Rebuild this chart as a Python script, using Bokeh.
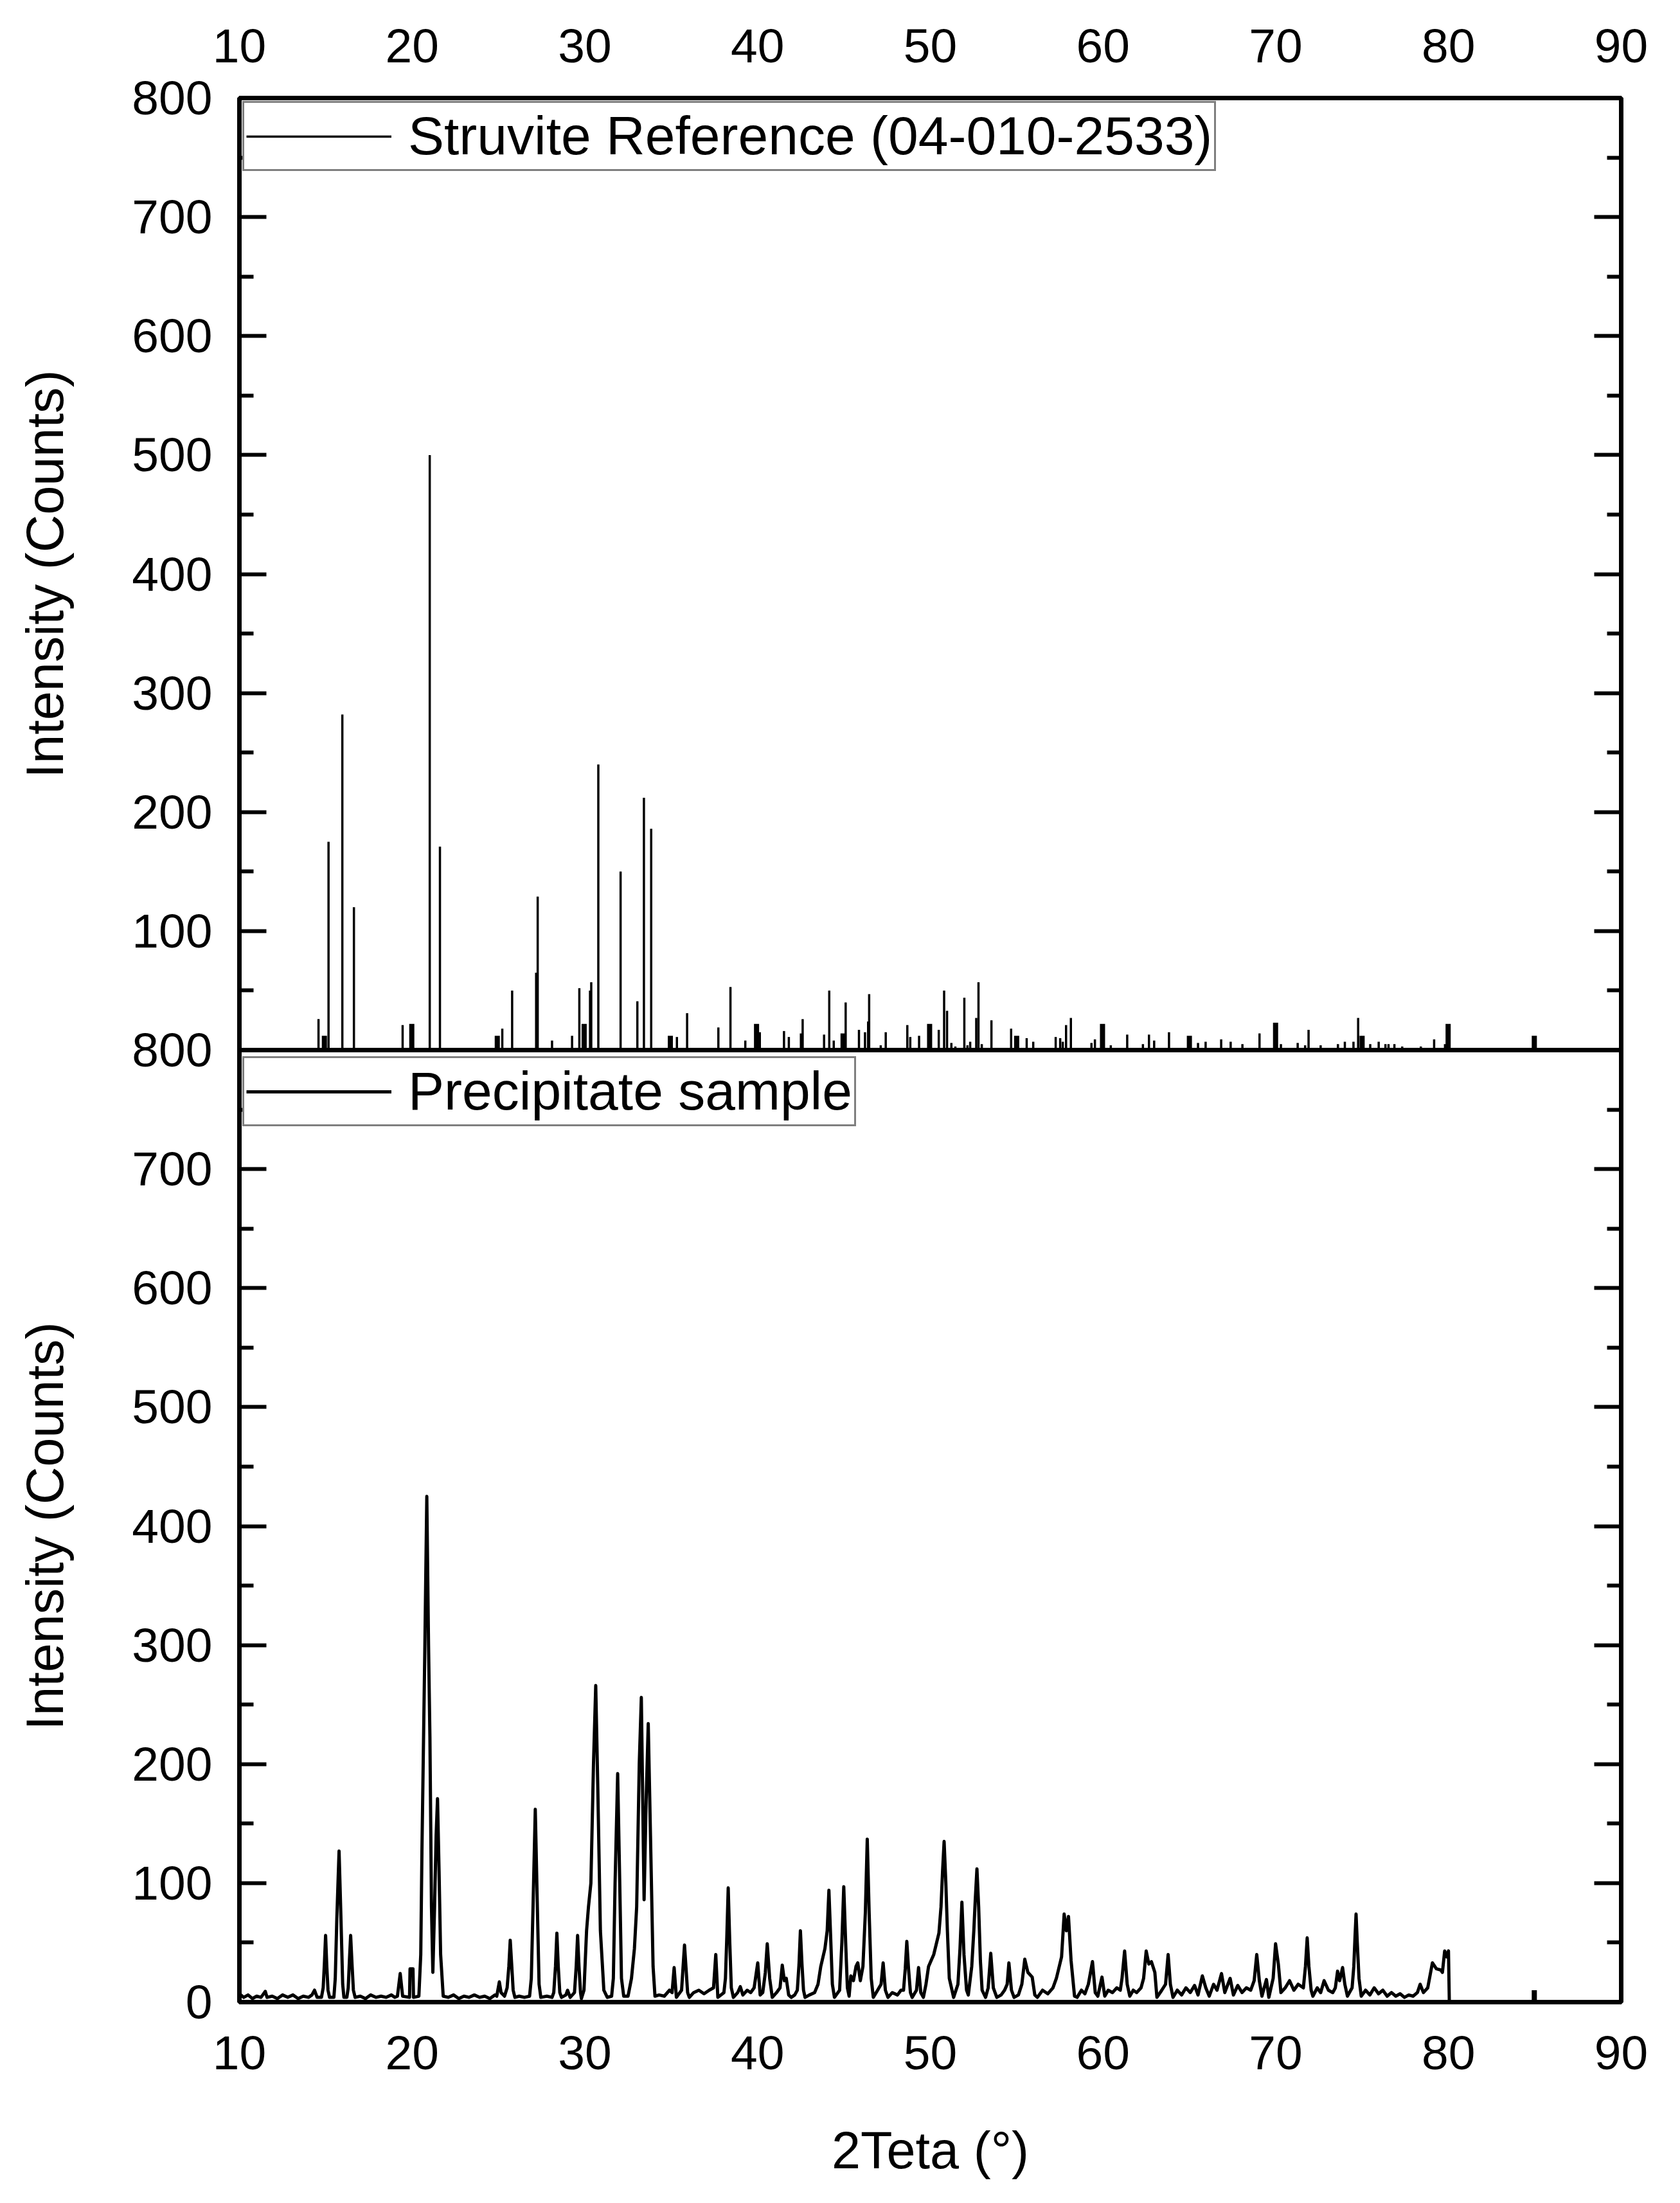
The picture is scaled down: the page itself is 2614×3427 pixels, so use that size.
import math
from bokeh.plotting import figure
from bokeh.models import (Range1d, LinearAxis, Legend, LegendItem, FixedTicker,
                          ColumnDataSource, Span)
from bokeh.layouts import row
from bokeh.core.properties import value
from bokeh.embed import file_html
from bokeh.resources import INLINE

FONT = "Liberation Sans"

# ---------------- data ----------------
# Struvite reference pattern (stick positions, 2theta deg / intensity)
ref_theta = [14.58, 15.16, 15.96, 16.63, 19.45, 21.02, 21.61, 25.22, 25.79, 27.18,
             27.27, 28.1, 29.26, 29.68, 30.3, 30.37, 30.78, 32.07, 33.04, 33.42,
             33.84, 35.33, 35.92, 37.73, 38.43, 39.29, 40.13, 41.53, 41.81, 42.51,
             42.61, 43.85, 44.15, 44.41, 45.1, 45.87, 46.22, 46.4, 46.46, 47.13,
             47.42, 48.67, 48.84, 49.35, 50.49, 50.8, 50.97, 51.22, 51.45, 51.97,
             52.15, 52.31, 52.66, 52.79, 52.98, 53.54, 54.68, 55.58, 55.96, 57.26,
             57.52, 57.67, 57.86, 58.14, 59.33, 59.53, 60.45, 61.4, 62.31, 62.66,
             62.96, 63.82, 65.5, 65.94, 66.84, 67.39, 68.07, 69.06, 70.3, 71.27,
             71.7, 71.9, 72.6, 73.6, 74.0, 74.5, 74.77, 75.47, 75.96, 76.35,
             76.53, 76.87, 77.32, 78.4, 79.17, 79.8]
ref_counts = [26, 175, 282, 120, 21, 500, 171, 18, 50, 65,
              129, 8, 12, 52, 50, 57, 240, 150, 41, 212,
              186, 11, 31, 19, 53, 8, 15, 16, 11, 14,
              26, 13, 50, 8, 40, 17, 15, 24, 47, 4,
              15, 21, 11, 12, 17, 50, 33, 6, 3, 44,
              4, 7, 27, 57, 5, 25, 18, 10, 7, 11,
              10, 7, 21, 27, 6, 9, 4, 13, 5, 13,
              8, 15, 6, 7, 9, 7, 5, 14, 5, 6,
              4, 17, 4, 5, 7, 7, 27, 5, 7, 5,
              5, 5, 3, 3, 9, 5]
# broad low blobs of the reference pattern
blob_theta = [14.92, 19.98, 24.93, 29.96, 34.95, 39.94, 44.95, 49.96, 55.0, 59.97,
              65.0, 69.99, 75.0, 79.98, 84.97]
blob_counts = [12, 22, 12, 22, 12, 22, 14, 22, 12, 22,
               12, 23, 12, 22, 12]

# Precipitate sample diffractogram
sample_theta = [
    10.0, 10.25, 10.5, 10.75, 11.0, 11.25, 11.5, 11.6, 11.9, 12.2, 12.5, 12.8, 13.1, 13.4,
    13.7, 14.0, 14.2, 14.35, 14.5,
    14.75, 14.85, 14.92, 14.99, 15.06, 15.13, 15.22,
    15.47, 15.55, 15.64, 15.77, 15.88, 15.98, 16.05,
    16.22, 16.3, 16.37, 16.44, 16.52, 16.6, 16.7,
    17.0, 17.3, 17.6, 17.9, 18.2, 18.5, 18.8, 19.0,
    19.15, 19.31, 19.45,
    19.85, 19.88, 20.05, 20.08,
    20.39, 20.5, 20.57, 20.73, 20.85, 20.95, 21.03, 21.12, 21.2, 21.3, 21.39, 21.47,
    21.56, 21.65, 21.8,
    22.1, 22.4, 22.7, 23.0, 23.3, 23.6, 23.9, 24.2, 24.5, 24.8,
    24.9, 25.05, 25.15, 25.35, 25.5, 25.6, 25.68, 25.77, 25.85, 25.95,
    26.2, 26.5,
    26.8, 26.9, 27.0, 27.13, 27.25, 27.35, 27.45,
    27.8, 28.1,
    28.2, 28.3, 28.38, 28.46, 28.55, 28.65,
    28.9, 29.0, 29.15,
    29.4, 29.5, 29.58, 29.66, 29.75, 29.8,
    29.95, 30.1, 30.21, 30.35, 30.5, 30.63, 30.75, 30.9, 31.1, 31.3,
    31.55, 31.65, 31.75, 31.9, 32.02, 32.12, 32.25,
    32.5,
    32.7, 32.87, 33.0, 33.15, 33.27, 33.35, 33.43, 33.55, 33.67, 33.8, 33.95, 34.06,
    34.3, 34.6, 34.9,
    35.05, 35.17, 35.3,
    35.6, 35.68, 35.77, 35.86, 35.95, 36.05,
    36.3, 36.6, 36.9, 37.2,
    37.45, 37.58, 37.7,
    38.05, 38.14, 38.22, 38.3, 38.39, 38.48, 38.6,
    38.85, 39.0, 39.15, 39.4, 39.6, 39.8,
    40.01, 40.15, 40.3, 40.45, 40.56, 40.7, 40.85,
    41.1,
    41.3, 41.43, 41.55, 41.66, 41.8, 41.95,
    42.15,
    42.3, 42.4, 42.48, 42.57, 42.66, 42.75,
    43.0, 43.3,
    43.5, 43.66, 43.9, 44.03, 44.13, 44.23, 44.33, 44.45,
    44.75, 44.88, 44.99, 45.1, 45.2, 45.3, 45.4, 45.55, 45.7, 45.8, 45.95,
    46.1, 46.24, 46.35, 46.46, 46.58, 46.7,
    46.95,
    47.15, 47.27, 47.4, 47.55,
    47.8, 48.1, 48.3,
    48.45, 48.55, 48.64, 48.74, 48.85, 48.95,
    49.2, 49.32, 49.45, 49.6,
    49.75, 49.9, 50.2, 50.5, 50.62, 50.71, 50.8, 50.9, 50.99, 51.1, 51.35,
    51.6, 51.72, 51.83, 51.95, 52.1, 52.2, 52.4, 52.52, 52.6, 52.7, 52.8, 52.9, 53.0, 53.2,
    53.35, 53.5, 53.65, 53.85,
    54.1, 54.3,
    54.45, 54.55, 54.7, 54.85, 55.1,
    55.3, 55.47, 55.65, 55.9, 56.05, 56.2,
    56.5, 56.8, 57.1, 57.3, 57.6, 57.75, 57.88, 58.0, 58.15, 58.35, 58.5,
    58.75, 58.95, 59.15, 59.39, 59.55, 59.7, 59.94, 60.1, 60.3, 60.55, 60.8, 61.0,
    61.1, 61.25, 61.4, 61.55, 61.75, 61.95, 62.2,
    62.35, 62.5, 62.65, 62.8, 63.0, 63.12, 63.4,
    63.62, 63.77, 63.9, 64.05,
    64.3, 64.55, 64.8, 65.05, 65.3, 65.5, 65.75, 65.95, 66.15, 66.4, 66.6, 66.86, 67.05,
    67.36, 67.55, 67.8, 68.05, 68.3, 68.55,
    68.75, 68.9, 69.05, 69.2, 69.46, 69.6,
    69.85, 69.99, 70.15, 70.3, 70.55, 70.8, 71.05, 71.3,
    71.6, 71.72, 71.82, 71.92, 72.05, 72.15, 72.4, 72.6, 72.8, 73.05, 73.3,
    73.45, 73.58, 73.7, 73.87, 74.0, 74.15,
    74.42, 74.52, 74.59, 74.65, 74.72, 74.82, 74.95,
    75.2, 75.45, 75.7, 75.95, 76.2, 76.45, 76.7, 76.95, 77.2, 77.45, 77.7, 77.95, 78.2,
    78.36, 78.55, 78.8, 79.07, 79.3, 79.55, 79.65, 79.78, 79.9, 80.0, 80.05]
sample_counts = [
    7, 4, 6, 3, 5, 4, 9, 4, 5, 3, 6, 4, 6, 3,
    5, 4, 6, 10, 4,
    4, 12, 32, 56, 30, 10, 4,
    4, 20, 70, 127, 70, 15, 4,
    4, 12, 35, 56, 32, 10, 4,
    5, 3, 6, 4, 5, 4, 6, 4,
    5, 24, 5,
    4, 28, 28, 4,
    5, 40, 129, 291, 425, 300, 223, 80, 25, 80, 140, 171,
    110, 40, 5,
    4, 6, 3, 5, 4, 6, 4, 5, 3, 6,
    5, 17, 8, 5, 12, 30, 52, 30, 10, 4,
    5, 4,
    5, 20, 80, 162, 80, 15, 4,
    5, 4,
    8, 30, 58, 30, 8, 4,
    6, 10, 4,
    8, 30, 56, 30, 8, 3,
    10, 60, 80, 100, 200, 266, 180, 60, 10, 4,
    5, 20, 100, 192, 100, 20, 5,
    5,
    20, 45, 80, 200, 256, 170, 86, 170, 234, 140, 30, 5,
    6, 5, 10,
    8, 29, 4,
    10, 28, 48, 28, 8, 4,
    8, 10, 7, 10,
    12, 40, 4,
    8, 20, 55, 96, 50, 12, 4,
    8, 13, 6, 10, 8, 12,
    33, 6, 8, 25, 49, 20, 4,
    8,
    12, 31, 18, 20, 6, 4,
    6,
    10, 32, 60, 32, 10, 4,
    6, 8,
    15, 30, 45, 60, 94, 55, 15, 4,
    10, 50, 97, 50, 12, 5, 22, 18, 30, 33, 18,
    30, 75, 137, 75, 20, 4,
    10,
    15, 33, 10, 4,
    8, 6, 10,
    10, 28, 51, 28, 8, 4,
    10, 29, 8, 4,
    15, 30, 40, 58, 80, 110, 135, 100, 60, 20, 4,
    15, 45, 84, 40, 10, 6, 30, 60, 85, 112, 80, 35, 10, 4,
    12, 41, 12, 4,
    6, 10,
    15, 33, 10, 4, 6,
    15, 36, 25, 21, 6, 4,
    10, 7, 12, 20, 38, 74, 60, 72, 35, 5, 4,
    10, 7, 15, 34, 8, 5, 21, 5, 10, 8, 12, 10,
    20, 43, 15, 5, 10, 8, 12,
    20, 43, 32, 34, 25, 4, 10,
    15, 40, 15, 4,
    10, 6, 12, 8, 14, 6, 22, 12, 5, 15, 10, 24, 8,
    20, 6, 14, 8, 12, 10,
    18, 40, 18, 5, 19, 4,
    20, 49, 32, 8, 12, 18, 10, 15,
    12, 30, 54, 30, 10, 5, 12, 8, 18, 10, 8,
    12, 26, 18, 29, 15, 5,
    12, 30, 55, 74, 50, 20, 5,
    10, 6, 12, 7, 10, 5, 8, 5, 7, 4, 6, 5, 8,
    15, 8, 12, 33, 28, 27, 25, 43, 38, 43, 0]
spike_theta = [84.97, 84.97]
spike_counts = [0, 10]

x_ticks = [10, 20, 30, 40, 50, 60, 70, 80, 90]
# stacked axis: lower panel 0..800, upper panel 0..800 placed above it
y_ticks = [0, 100, 200, 300, 400, 500, 600, 700, 800,
           900, 1000, 1100, 1200, 1300, 1400, 1500, 1600]
y_tick_labels = ["0", "100", "200", "300", "400", "500", "600", "700", "800",
                 "100", "200", "300", "400", "500", "600", "700", "800"]
y_minor = [50, 150, 250, 350, 450, 550, 650, 750,
           850, 950, 1050, 1150, 1250, 1350, 1450, 1550]
# y-axis titles, one per panel, at the panel centres of the stacked axis
y_titles = ["Intensity (Counts)", "Intensity (Counts)"]
y_title_pos = [400, 1200]

# ---------------- styling ----------------
TICK_FS = "75px"
LABEL_FS = "81px"
LEGEND_FS = "84px"
FRAME_W = 7
TITLE_COL_W = 150
FRAME_H = 2962
TOP_B = 152
BOT_B = 290

p = figure(frame_width=2150, frame_height=FRAME_H,
           x_range=Range1d(10, 90), y_range=Range1d(0, 1600),
           output_backend="svg", toolbar_location=None,
           min_border_left=372 - TITLE_COL_W, min_border_right=60,
           min_border_top=TOP_B, min_border_bottom=BOT_B)
p.extra_y_ranges = {"upper": Range1d(-800, 800)}
p.xgrid.visible = False
p.ygrid.visible = False
p.outline_line_color = "black"
p.outline_line_width = FRAME_W
p.outline_line_alpha = 1.0
p.background_fill_color = "white"
p.border_fill_color = "white"


def style_x(ax, standoff):
    ax.ticker = FixedTicker(ticks=x_ticks)
    ax.major_tick_in = 0
    ax.major_tick_out = 0
    ax.minor_tick_in = 0
    ax.minor_tick_out = 0
    ax.axis_line_width = FRAME_W
    ax.axis_line_color = "black"
    ax.major_label_text_font = FONT
    ax.major_label_text_font_size = TICK_FS
    ax.major_label_text_color = "black"
    ax.major_label_standoff = standoff


def style_y(ax, labels):
    ax.ticker = FixedTicker(ticks=y_ticks, minor_ticks=y_minor)
    ax.major_tick_in = 42
    ax.major_tick_out = 0
    ax.minor_tick_in = 22
    ax.minor_tick_out = 0
    ax.major_tick_line_width = 6
    ax.minor_tick_line_width = 6
    ax.major_tick_line_color = "black"
    ax.minor_tick_line_color = "black"
    ax.axis_line_width = FRAME_W
    ax.axis_line_color = "black"
    ax.major_label_text_font = FONT
    ax.major_label_text_font_size = TICK_FS
    ax.major_label_text_color = "black"
    ax.major_label_standoff = 42
    ax.major_label_overrides = {t: s for t, s in zip(y_ticks, labels)}


# bottom x axis
xb = p.xaxis[0]
style_x(xb, 53)
xb.axis_label = "2Teta (°)"
xb.axis_label_text_font = FONT
xb.axis_label_text_font_size = LABEL_FS
xb.axis_label_text_font_style = "normal"
xb.axis_label_text_color = "black"
xb.axis_label_standoff = 78

# top x axis
xt = LinearAxis()
style_x(xt, 56)
p.add_layout(xt, "above")

# left y axis
style_y(p.yaxis[0], y_tick_labels)

# right y axis (ticks only)
yr = LinearAxis()
style_y(yr, ["" for _ in y_ticks])
yr.major_label_standoff = 0
p.add_layout(yr, "right")

# panel separator
p.add_layout(Span(location=0, dimension="width", y_range_name="upper",
                  line_color="black", line_width=FRAME_W))

# ---------------- upper panel: reference sticks ----------------
ref_src = ColumnDataSource(data=dict(theta=ref_theta, counts=ref_counts))
blob_src = ColumnDataSource(data=dict(theta=blob_theta, counts=blob_counts))
r_ref = p.segment(x0="theta", y0=0, x1="theta", y1="counts", source=ref_src,
                  y_range_name="upper", line_color="black", line_width=3.5)
p.segment(x0="theta", y0=0, x1="theta", y1="counts", source=blob_src,
          y_range_name="upper", line_color="black", line_width=8)

# ---------------- lower panel: sample ----------------
r_smp = p.line(x=sample_theta, y=sample_counts, line_color="black", line_width=5,
               line_join="round")
p.line(x=spike_theta, y=spike_counts, line_color="black", line_width=8)


def make_legend(label, renderer, location):
    return Legend(items=[LegendItem(label=label, renderers=[renderer])],
                  location=location, margin=5, padding=3, spacing=0,
                  glyph_width=226, glyph_height=40, label_standoff=26,
                  label_text_font=FONT, label_text_font_size=LEGEND_FS,
                  label_text_color="black",
                  border_line_color="black", border_line_width=3,
                  background_fill_color="white", background_fill_alpha=1.0)


p.add_layout(make_legend("Struvite Reference (04-010-2533)", r_ref, "top_left"))
p.add_layout(make_legend("Precipitate sample", r_smp, (5, 1362)))

# ---------------- narrow column holding the two y-axis titles ----------------
tf = figure(frame_width=TITLE_COL_W, frame_height=FRAME_H,
            x_range=Range1d(0, TITLE_COL_W), y_range=Range1d(0, 1600),
            x_axis_type=None, y_axis_type=None,
            output_backend="svg", toolbar_location=None,
            min_border_left=0, min_border_right=0,
            min_border_top=TOP_B, min_border_bottom=BOT_B)
tf.xgrid.visible = False
tf.ygrid.visible = False
tf.outline_line_color = None
tf.background_fill_color = "white"
tf.border_fill_color = "white"
title_src = ColumnDataSource(data=dict(
    x=[TITLE_COL_W / 2 - 6] * len(y_titles), y=y_title_pos, t=y_titles))
tf.text(x="x", y="y", text="t", source=title_src, angle=math.pi / 2,
        text_align="center", text_baseline="middle",
        text_font=value(FONT), text_font_size=value(LABEL_FS), text_color="black")

layout = row(tf, p, spacing=0)

with open("out.html", "w") as f:
    f.write(file_html(layout, INLINE))
